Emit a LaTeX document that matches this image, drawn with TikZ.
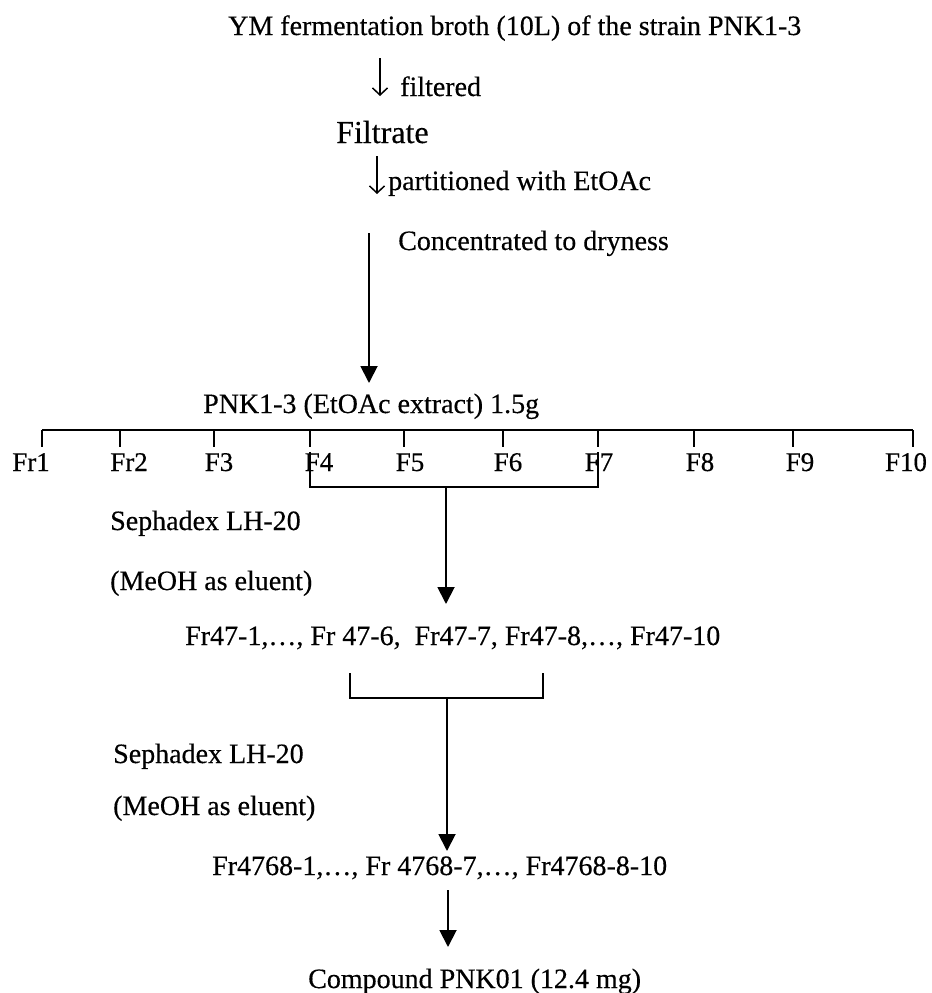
\documentclass[tikz,border=0pt]{standalone}
\usepackage{fontspec}
\setmainfont{Liberation Serif}[FakeBold=0.35]
\usetikzlibrary{arrows.meta}
\begin{document}
\begin{tikzpicture}[x=1bp,y=-1bp,
  txt/.style={inner sep=0pt, font=\fontsize{28bp}{32bp}\selectfont, anchor=base west},
  lab/.style={inner sep=0pt, font=\fontsize{27bp}{32bp}\selectfont, anchor=base},
  conn/.style={line width=1.9bp},
  bigarrow/.style={line width=1.9bp, -{Triangle[width=17bp,length=17bp]}},
  smallarrow/.style={line width=1.5bp, -{Straight Barb[length=7bp,width=15bp]}}]
\useasboundingbox (0,0) rectangle (932,993);
\fill[white] (0,0) rectangle (932,993);

% top part
\node[txt] (title) at (228,35) {YM fermentation broth (10L) of the strain PNK1-3};
\coordinate (a1s) at (380,58);
\coordinate (a1e) at (380,96);
\draw[smallarrow] (a1s) -- (a1e);
\node[txt] (filtered) at (400,96) {filtered};
\node[txt, font=\fontsize{32bp}{36bp}\selectfont] (filtrate) at (336,143) {Filtrate};
\coordinate (a2s) at (377,156);
\coordinate (a2e) at (377,194);
\draw[smallarrow] (a2s) -- (a2e);
\node[txt] (part) at (388,190) {partitioned with EtOAc};
\node[txt] (conc) at (398,250) {Concentrated to dryness};
\coordinate (a3s) at (369,233);
\coordinate (a3e) at (369,383);
\draw[bigarrow] (a3s) -- (a3e);
\node[txt] (pnk) at (203,413) {PNK1-3 (EtOAc extract) 1.5g};

% fraction row
\coordinate (hl) at (42,430);
\coordinate (hr) at (913,430);
\draw[conn] (hl) -- (hr);
\foreach \n/\tx/\lx/\t in {1/42/31/Fr1, 2/120/129/Fr2, 3/214/219/F3, 4/310/319/F4, 5/404/410/F5,
                          6/503/508/F6, 7/598/599/F7, 8/694/700/F8, 9/793/800/F9, 10/913/906/F10}{
  \coordinate (t\n) at (\tx,430);
  \draw[conn] (t\n) -- ++(0,17);
  \node[lab] (f\n) at (\lx,471) {\t};
}
% bracket F4--F7
\coordinate (b1l) at (310,452);
\coordinate (b1r) at (598,452);
\coordinate (b1m) at (446,487);
\coordinate (b1e) at (446,604);
\draw[conn] (b1l) -- (310,487) -- (598,487) -- (b1r);
\draw[bigarrow] (b1m) -- (b1e);
\node[txt] (seph1) at (110,530) {Sephadex LH-20};
\node[txt] (meoh1) at (110,590) {(MeOH as eluent)};
\node[txt] (fr47) at (185,645) {Fr47-1,…, Fr 47-6,~~Fr47-7, Fr47-8,…, Fr47-10};

% second bracket
\coordinate (b2l) at (350,673);
\coordinate (b2r) at (543,673);
\coordinate (b2m) at (447,698);
\coordinate (b2e) at (447,851);
\draw[conn] (b2l) -- (350,698) -- (543,698) -- (b2r);
\draw[bigarrow] (b2m) -- (b2e);
\node[txt] (seph2) at (113,763) {Sephadex LH-20};
\node[txt] (meoh2) at (113,815) {(MeOH as eluent)};
\node[txt] (fr4768) at (212,875) {Fr4768-1,…, Fr 4768-7,…, Fr4768-8-10};
\coordinate (a4s) at (448,890);
\coordinate (a4e) at (448,947);
\draw[bigarrow] (a4s) -- (a4e);
\node[txt] (comp) at (308,988) {Compound PNK01 (12.4 mg)};
\end{tikzpicture}
\end{document}
